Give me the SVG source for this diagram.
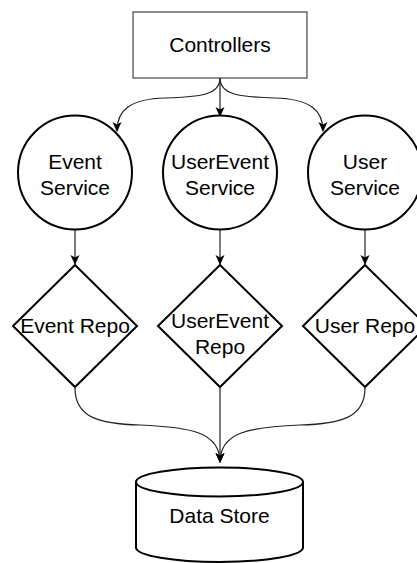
<svg xmlns="http://www.w3.org/2000/svg" width="417" height="563" viewBox="0 0 417 563">
  <style>
    .lbl { font-family: "Liberation Sans", Arial, sans-serif; font-size: 21px; fill: #000; text-anchor: middle; }
    .shape { fill: #fff; stroke: #000; stroke-width: 2; }
    .box { fill: #fff; stroke: #444; stroke-width: 1.2; }
    .edge { fill: none; stroke: #222; stroke-width: 1.2; marker-end: url(#arrow); }
  </style>
  <defs>
    <marker id="arrow" viewBox="0 0 10 10" refX="9" refY="5" markerWidth="10" markerHeight="10" markerUnits="userSpaceOnUse" orient="auto">
      <path d="M0,0.5 L10,5 L0,9.5 L2.5,5 Z" fill="#000" stroke="none"/>
    </marker>
  </defs>
  <rect width="417" height="563" fill="#fff"/>

  <!-- connectors -->
  <g id="connectors">
    <path class="edge" d="M220,78 C220,95 200,97 165,98 C130,99 117,110 117,131"/>
    <path class="edge" d="M220,78 L220,116"/>
    <path class="edge" d="M220,78 C220,95 240,97 275,98 C310,99 323,110 323,131"/>
    <path class="edge" d="M75,230 L75,264"/>
    <path class="edge" d="M220,230 L220,264"/>
    <path class="edge" d="M365,230 L365,264"/>
    <path class="edge" d="M75,388 C75,418 100,424 140,425 C190,427 220,432 220,462"/>
    <path class="edge" d="M220,388 L220,462"/>
    <path class="edge" d="M365,388 C365,418 340,424 300,425 C250,427 220,432 220,462"/>
  </g>

  <g id="controllers">
    <rect class="box" x="133" y="12" width="174" height="66"/>
    <text class="lbl" x="220" y="52">Controllers</text>
  </g>

  <g id="event-service">
    <circle class="shape" cx="75" cy="172.5" r="57"/>
    <text class="lbl" x="75" y="169">Event</text>
    <text class="lbl" x="75" y="195">Service</text>
  </g>
  <g id="userevent-service">
    <circle class="shape" cx="220" cy="172.5" r="57"/>
    <text class="lbl" x="220" y="169">UserEvent</text>
    <text class="lbl" x="220" y="195">Service</text>
  </g>
  <g id="user-service">
    <circle class="shape" cx="365" cy="172.5" r="57"/>
    <text class="lbl" x="365" y="169">User</text>
    <text class="lbl" x="365" y="195">Service</text>
  </g>

  <g id="event-repo">
    <polygon class="shape" points="75,265 137,326 75,387 13,326"/>
    <text class="lbl" x="75" y="333">Event Repo</text>
  </g>
  <g id="userevent-repo">
    <polygon class="shape" points="220,265 282,326 220,387 158,326"/>
    <text class="lbl" x="220" y="328">UserEvent</text>
    <text class="lbl" x="220" y="354">Repo</text>
  </g>
  <g id="user-repo">
    <polygon class="shape" points="365,265 427,326 365,387 303,326"/>
    <text class="lbl" x="365" y="333">User Repo</text>
  </g>

  <g id="data-store">
    <path class="shape" d="M136,482 A83.5,14.5 0 0 1 303,482 L303,547.5 A83.5,14.5 0 0 1 136,547.5 Z"/>
    <path class="shape" fill="none" d="M136,482 A83.5,14.5 0 0 0 303,482"/>
    <text class="lbl" x="219.5" y="523">Data Store</text>
  </g>
</svg>
